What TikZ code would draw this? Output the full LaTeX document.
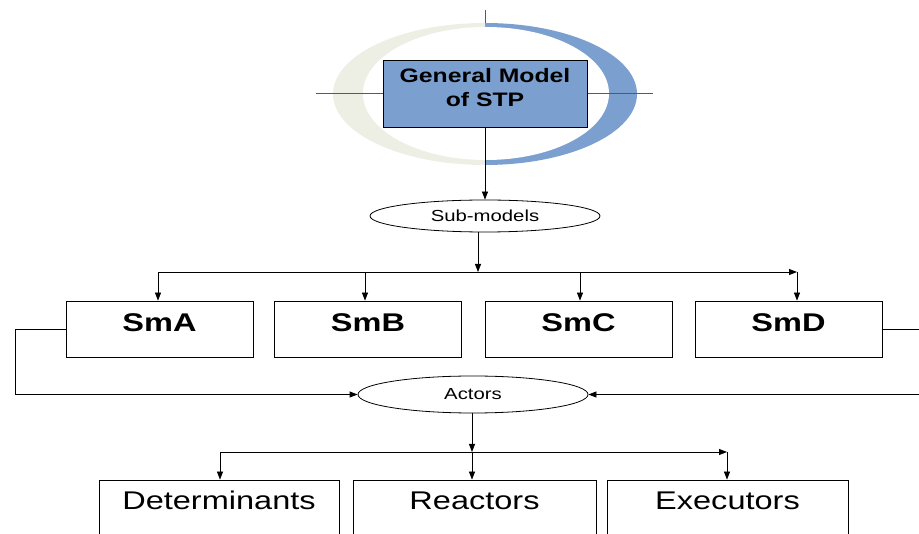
\documentclass[tikz,border=0pt]{standalone}
\usepackage{fontspec}
\setmainfont{Liberation Sans}[FakeStretch=1.27]
\usetikzlibrary{arrows.meta,shapes.geometric}
\definecolor{stpblue}{RGB}{123,159,207}
\definecolor{stpgrey}{RGB}{237,238,228}
\definecolor{guide}{RGB}{90,90,90}
\begin{document}
\begin{tikzpicture}[x=1pt,y=-1pt,
  box/.style={draw=black,line width=0.8pt,rectangle,inner sep=0pt},
  smbox/.style={box,minimum width=187pt,minimum height=56pt,
    font=\fontsize{25.6}{30}\selectfont\bfseries,text height=20pt,text depth=14pt},
  actbox/.style={box,minimum height=80pt,
    font=\fontsize{25.6}{30}\selectfont,text height=18pt,text depth=38pt},
  oval/.style={draw=black,line width=0.8pt,ellipse,inner sep=0pt,minimum width=230pt,
    font=\fontsize{16}{19}\selectfont},
  arr/.style={-{Triangle[length=8pt,width=6pt]},line width=0.8pt},
  ln/.style={line width=0.8pt}]
\useasboundingbox (0,0) rectangle (919,534);
% crescent backdrop
\begin{scope}
  \clip (0,0) rectangle (485,200);
  \fill[stpgrey] (485,94) ellipse [x radius=152pt, y radius=71pt];
\end{scope}
\begin{scope}
  \clip (485,0) rectangle (919,200);
  \fill[stpblue] (485,94) ellipse [x radius=152pt, y radius=71pt];
\end{scope}
\fill[white] (486,93.5) ellipse [x radius=123pt, y radius=66.5pt];
\draw[guide,line width=0.8pt] (316,93) -- (653,93);
\draw[guide,line width=0.8pt] (485,10) -- (485,23);
% nodes
\node[box,fill=stpblue,minimum width=204pt,minimum height=67pt] (gm) at (485,93.5) {};
\node[align=center,inner sep=0pt,font=\fontsize{19.5}{24}\selectfont\bfseries]
  (gmtext) at (485,87.5) {General Model\\of STP};
\node[oval,minimum height=32pt] (sub) at (485,216) {Sub-models};
\node[smbox] (smA) at (159.5,329) {SmA};
\node[smbox] (smB) at (368,329) {SmB};
\node[smbox] (smC) at (578.5,329) {SmC};
\node[smbox] (smD) at (788.5,329) {SmD};
\node[oval,minimum height=37pt] (act) at (473,394.5) {Actors};
\node[actbox,minimum width=240pt] (det) at (219,520) {Determinants};
\node[actbox,minimum width=243pt] (rea) at (474.5,520) {Reactors};
\node[actbox,minimum width=241pt] (exe) at (727.5,520) {Executors};
% coordinates
\coordinate (j1) at (478,272);
\coordinate (b1l) at (158,272);
\coordinate (dB) at (365,272);
\coordinate (dC) at (580,272);
\coordinate (b1r) at (797,272);
\coordinate (la) at (15,0);
\coordinate (ra) at (921,0);
\coordinate (j2) at (472,452);
\coordinate (b2l) at (220,452);
\coordinate (b2r) at (727,452);
% connectors
\draw[arr] (gm.south) -- (sub.north);
\draw[arr] (sub.south -| j1) -- (j1);
\draw[ln] (b1l) -- (j1);
\draw[arr] (j1) -- (b1r);
\draw[arr] (b1l) -- (b1l |- smA.north);
\draw[arr] (dB) -- (dB |- smB.north);
\draw[arr] (dC) -- (dC |- smC.north);
\draw[arr] (b1r) -- (b1r |- smD.north);
\draw[arr] (smA.west) -- (smA.west -| la) |- (act.west);
\draw[arr] (smD.east) -- (smD.east -| ra) |- (act.east);
\draw[arr] (act.south -| j2) -- (j2);
\draw[ln] (b2l) -- (j2);
\draw[arr] (j2) -- (b2r);
\draw[arr] (b2l) -- (b2l |- det.north);
\draw[arr] (j2) -- (j2 |- rea.north);
\draw[arr] (b2r) -- (b2r |- exe.north);
\end{tikzpicture}
\end{document}
